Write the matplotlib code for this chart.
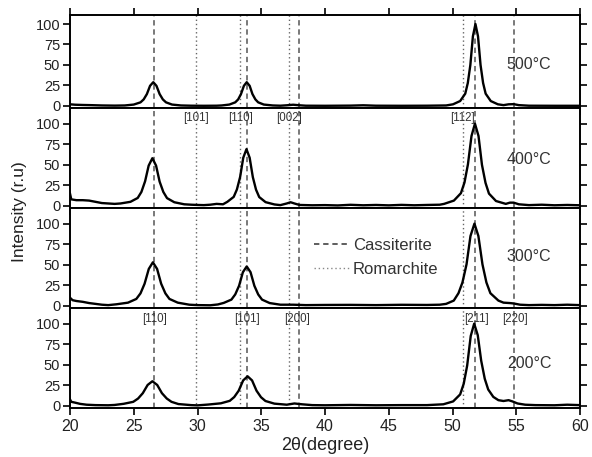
import matplotlib
matplotlib.use("Agg")
import matplotlib.pyplot as plt
from matplotlib.ticker import MultipleLocator
from matplotlib.lines import Line2D

plt.rcParams['font.family'] = ['Liberation Sans', 'DejaVu Sans']

# ---------------- data ----------------
temps = ["500°C", "400°C", "300°C", "200°C"]

x500 = [20, 20.4, 21, 21.6, 22.5, 23.5, 24.3, 25.0, 25.53, 25.78, 26.03, 26.28, 26.53,
        26.78, 27.03, 27.28, 27.53, 28.0, 28.7, 29.5, 30.5, 31.5, 31.9, 32.5, 32.96,
        33.19, 33.41, 33.64, 33.86, 34.09, 34.31, 34.54, 34.76, 35.2, 35.9, 36.5, 37.0,
        37.5, 38.0, 38.5, 40, 42, 43, 44, 46, 48, 49.5, 50.04, 50.6, 51.0, 51.2, 51.4,
        51.6, 51.8, 52.0, 52.2, 52.4, 52.6, 53.0, 53.56, 54.0, 54.4, 54.8, 55.2, 56, 58, 60]
y500 = [2, 1.5, 1.2, 1.0, 0.6, 0.4, 0.6, 1.7, 4.4, 8, 14.5, 24.6, 29,
        24.6, 14.5, 8, 4.4, 1.7, 0.6, 0.3, 0.2, 0.3, 0.6, 1.7, 4.4,
        8, 14.5, 24.6, 29, 24.6, 14.5, 8, 4.4, 1.7, 0.6, 0.3, 0.8,
        1.5, 0.8, 0.3, 0.2, 0.4, 0.8, 0.3, 0.2, 0.3, 0.6, 2, 6, 15, 28, 50,
        85, 100, 85, 50, 28, 15, 6, 2, 1, 2, 2.2, 1, 0.3, 0.2, 0.2]

x400 = [20, 20.1, 20.5, 21, 21.5, 22, 22.5, 23, 23.5, 23.96, 24.74, 25.31, 25.6, 25.89,
        26.17, 26.46, 26.75, 27.03, 27.32, 27.61, 28.18, 28.96, 29.5, 30, 30.5, 31, 31.5,
        32, 32.34, 32.84, 33.09, 33.34, 33.59, 33.84, 34.09, 34.34, 34.59, 34.84, 35.34,
        36.04, 36.5, 37.0, 37.3, 37.6, 38.0, 39, 40, 41, 42, 43, 44, 45, 46, 47, 48, 49,
        49.34, 50.11, 50.66, 50.94, 51.21, 51.49, 51.76, 52.04, 52.31, 52.59, 52.86, 53.41,
        54.18, 54.5, 54.8, 55.2, 56, 57, 58, 59, 60]
y400 = [15, 8, 7, 7, 6.5, 5, 3.5, 3, 2.5, 3, 5, 9.7, 17, 30,
        49, 58, 49, 29.5, 17, 9.5, 4.5, 2, 1.5, 1.2, 1, 1.5, 2.5,
        2, 5, 11, 20, 35, 58.6, 69, 58.6, 35, 19.8, 10.8, 4.6,
        1.8, 1, 3, 4.5, 3, 1.2, 0.8, 1, 0.6, 1.4, 0.8, 1.2, 0.7, 1.3, 0.8, 1.2, 1.5,
        2.5, 6.5, 15.5, 28.5, 50.5, 85, 100, 85, 50, 28, 15, 6,
        2.5, 4, 4, 2, 1, 1.5, 0.8, 1.2, 0.8]

x300 = [20, 20.2, 20.5, 21, 21.5, 22, 22.5, 23, 23.64, 24.55, 25.2, 25.53, 25.85, 26.18,
        26.5, 26.83, 27.15, 27.48, 27.8, 28.45, 29.36, 30, 31, 31.6, 32.06, 32.66, 32.96,
        33.26, 33.56, 33.86, 34.16, 34.46, 34.76, 35.06, 35.66, 36.5, 37.5, 38.5, 40, 42,
        44, 46, 48, 49, 49.5, 50.1, 50.47, 50.78, 51.1, 51.41, 51.72, 52.03, 52.35, 52.66,
        52.97, 53.6, 54.0, 54.5, 54.8, 55.3, 56, 57, 58, 59, 60]
y300 = [10, 7, 6, 5, 3.5, 2.5, 1.5, 1, 2, 4, 8.5, 15.3, 27, 45,
        53, 45, 27, 15.3, 8.5, 4, 1.5, 1, 0.8, 1.8, 3.7, 7.7, 14,
        24.5, 41, 48, 41, 24.5, 14, 7.7, 3.5, 1.5, 1.5, 1, 1.2, 1.3,
        1, 1.4, 1.2, 1.5, 2.5, 6.5, 15.5, 28.5, 50.5, 85, 100, 85, 50.5, 28.5,
        15.5, 6.5, 4, 3.5, 3, 1.5, 1, 1.3, 1, 1.5, 1]

x200 = [20, 20.1, 20.4, 20.8, 21.3, 22, 23, 23.5, 24.21, 24.96, 25.34, 25.71, 26.09, 26.46,
        26.84, 27.21, 27.59, 27.96, 28.5, 29.5, 30, 30.85, 31.83, 32.53, 32.88, 33.23,
        33.58, 33.93, 34.28, 34.63, 34.98, 35.33, 36.03, 37.0, 37.6, 38.2, 39, 40, 42,
        44, 46, 48, 49.28, 50.05, 50.6, 50.88, 51.15, 51.43, 51.7, 51.98, 52.25, 52.53,
        52.8, 53.2, 53.6, 54.0, 54.4, 54.7, 55.1, 55.7, 56.5, 58, 59, 60]
y200 = [8, 5, 4, 2.5, 1.5, 1, 0.8, 1.2, 2.6, 5, 9, 15.5, 25.5, 30,
        25.5, 15.5, 9, 5, 2.3, 1, 0.7, 1.7, 3.2, 6.2, 10.8, 18.5,
        31, 36, 31, 18.5, 10.6, 6, 2.8, 1.5, 3, 2, 1, 0.8, 1.2,
        0.8, 1, 1, 2, 5.5, 14, 27, 49, 85, 100, 86, 55, 33,
        20, 11, 7, 6, 7, 5.5, 3, 1.5, 1, 0.8, 1.5, 1]

xs = [x500, x400, x300, x200]
ys = [y500, y400, y300, y200]

cassiterite_pos = [26.6, 33.9, 37.95, 51.8, 54.8]
cassiterite_lbl = ["[110]", "[101]", "[200]", "[211]", "[220]"]
cassiterite_lbl_x = [26.6, 33.9, 37.8, 51.85, 54.9]
romarchite_pos = [29.85, 33.3, 37.2, 50.85]
romarchite_lbl = ["[101]", "[110]", "[002]", "[112]"]
romarchite_lbl_x = [29.9, 33.4, 37.2, 50.8]

temp_y = [50, 57, 60, 51]

# ---------------- figure ----------------
W, H = 592, 457
fig = plt.figure(figsize=(W / 100, H / 100), dpi=100)
gs = fig.add_gridspec(4, 1, height_ratios=[93, 100, 100, 100], hspace=0,
                      left=70 / W, right=580 / W, top=1 - 15 / H, bottom=1 - 408 / H)
axes = [fig.add_subplot(gs[i]) for i in range(4)]
ylims = [(-2.5, 111), (-2.5, 119), (-2.5, 119), (-2.5, 119)]

tick_color = '#222222'
for i, ax in enumerate(axes):
    for v in cassiterite_pos:
        ax.axvline(v, color='#555555', lw=1.1, ls=(0, (3.5, 2.5)), zorder=1)
    for v in romarchite_pos:
        ax.axvline(v, color='#666666', lw=1.0, ls=(0, (1, 2)), zorder=1)
    ax.plot(xs[i], ys[i], color='black', lw=1.7, zorder=3)
    ax.set_xlim(20, 60)
    ax.set_ylim(*ylims[i])
    ax.set_yticks([0, 25, 50, 75, 100])
    ax.xaxis.set_major_locator(MultipleLocator(5))
    for s in ax.spines.values():
        s.set_linewidth(1.4)
    ax.tick_params(axis='y', which='both', direction='out', left=True, right=True,
                   labelleft=True, labelright=False, length=5, width=1.2,
                   labelsize=10.5, labelcolor=tick_color, pad=2)
    ax.tick_params(axis='x', which='major', direction='out', bottom=True,
                   top=(i == 0), length=5, width=1.2,
                   labelbottom=(i == 3), labelsize=11.5, labelcolor=tick_color, pad=3)
    if i == 2:
        ax.xaxis.set_minor_locator(MultipleLocator(2.5))
        ax.tick_params(axis='x', which='minor', direction='out', length=3, width=1.0)
    ax.text(56.0, temp_y[i], temps[i], ha='center', va='center',
            fontsize=11.5, color='#333333')

# peak index labels
for x, t in zip(romarchite_lbl_x, romarchite_lbl):
    axes[1].text(x, 107, t, ha='center', va='center', fontsize=8.3, color='#333333')
for x, t in zip(cassiterite_lbl_x, cassiterite_lbl):
    axes[3].text(x, 106, t, ha='center', va='center', fontsize=8.3, color='#333333')

# legend in the 300 °C panel
handles = [Line2D([], [], color='#333333', lw=1.1, ls=(0, (3.5, 2.5))),
           Line2D([], [], color='#888888', lw=1.0, ls=(0, (1, 2)))]
axes[2].legend(handles, ['Cassiterite', 'Romarchite'], loc='upper left',
               bbox_to_anchor=(0.465, 0.77), frameon=False, fontsize=12,
               handlelength=2.1, handletextpad=0.25, labelspacing=0.55,
               borderaxespad=0, labelcolor='#333333')

fig.text(20 / W, 1 - 212 / H, 'Intensity (r.u)', rotation=90, ha='center', va='center',
         fontsize=12.5, color='#222222')
fig.text(325 / W, 1 - 446 / H, '2θ(degree)', ha='center', va='center',
         fontsize=13, color='#222222')

fig.savefig('out.png', dpi=100)
